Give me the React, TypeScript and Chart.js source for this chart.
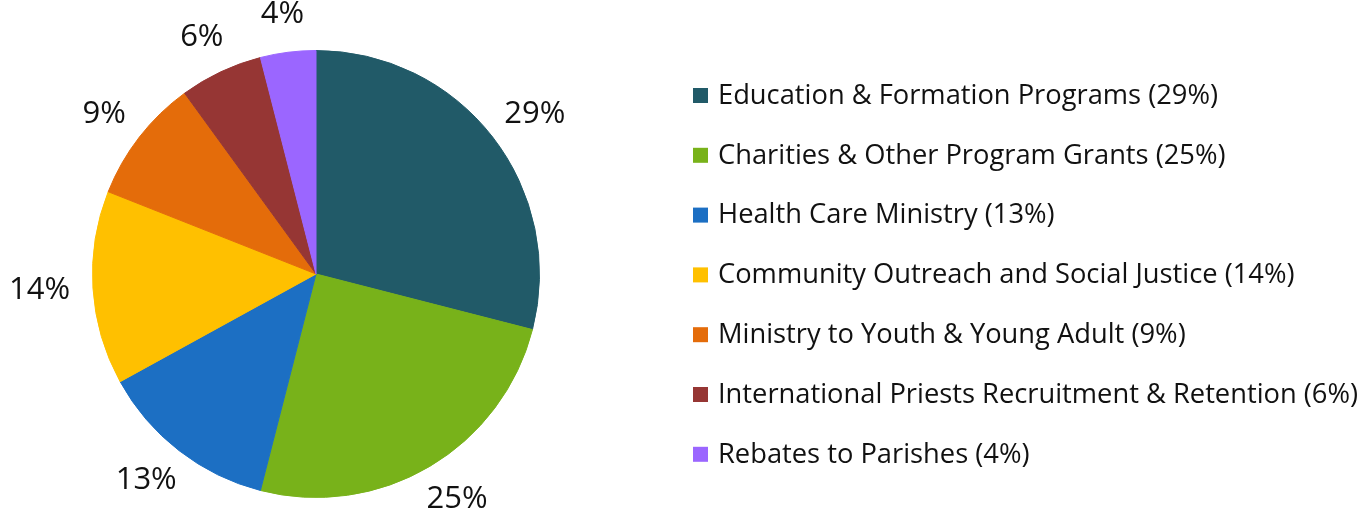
import { useEffect, useRef } from "react"
import { Chart, registerables } from "chart.js"

Chart.register(...registerables)

const categories = [
  "Education & Formation Programs",
  "Charities & Other Program Grants",
  "Health Care Ministry",
  "Community Outreach and Social Justice",
  "Ministry to Youth & Young Adult",
  "International Priests Recruitment & Retention",
  "Rebates to Parishes",
]
const shares = [29, 25, 13, 14, 9, 6, 4]
const colors = ["#215a68", "#78b21a", "#1c6fc3", "#ffc000", "#e46c0a", "#963634", "#9b66ff"]

const FONT = "'Open Sans', 'Noto Sans', sans-serif"

const sliceLabels = {
  id: "sliceLabels",
  afterDatasetsDraw(chart: Chart) {
    const { ctx } = chart
    const meta = chart.getDatasetMeta(0)
    ctx.save()
    ctx.font = `31px ${FONT}`
    ctx.fillStyle = "#111"
    ctx.textAlign = "center"
    ctx.textBaseline = "middle"
    meta.data.forEach((el: any, i: number) => {
      const { x, y, startAngle, endAngle, outerRadius } = el.getProps(
        ["x", "y", "startAngle", "endAngle", "outerRadius"],
        true
      )
      const mid = (startAngle + endAngle) / 2
      const dx = Math.cos(mid)
      const dy = Math.sin(mid)
      const text = `${shares[i]}%`
      const w = ctx.measureText(text).width
      const h = 30
      // label box sits just outside the rim, like Excel's "outside end"
      const r = outerRadius + 23
      const cx = x + dx * r + dx * (w / 2)
      const cy = y + dy * r + dy * (h / 2)
      ctx.fillText(text, cx, cy)
    })
    ctx.restore()
  },
}

const sideLegend = {
  id: "sideLegend",
  afterDraw(chart: Chart) {
    const { ctx } = chart
    ctx.save()
    ctx.font = `27.3px ${FONT}`
    ctx.textBaseline = "middle"
    ctx.textAlign = "left"
    categories.forEach((name, i) => {
      const y = 96 + i * 59.8
      ctx.fillStyle = colors[i]
      ctx.fillRect(693, y - 8, 15, 15)
      ctx.fillStyle = "#111"
      ctx.fillText(`${name} (${shares[i]}%)`, 718, y)
    })
    ctx.restore()
  },
}

export default function App() {
  const chartRef = useRef<HTMLCanvasElement>(null)
  const chartInstance = useRef<Chart | null>(null)

  useEffect(() => {
    document.body.style.margin = "0"
    if (!chartRef.current) return
    if (chartInstance.current) chartInstance.current.destroy()

    chartInstance.current = new Chart(chartRef.current, {
      type: "pie",
      data: {
        labels: categories,
        datasets: [
          {
            data: shares,
            backgroundColor: colors,
            borderColor: colors,
            borderWidth: 1,
            hoverOffset: 0,
          },
        ],
      },
      options: {
        animation: false,
        responsive: true,
        maintainAspectRatio: false,
        layout: {
          padding: { top: 50, bottom: 19, left: 92, right: 828 },
        },
        plugins: {
          legend: { display: false },
          tooltip: { enabled: false },
        },
      },
      plugins: [sliceLabels, sideLegend],
    })

    return () => {
      if (chartInstance.current) {
        chartInstance.current.destroy()
        chartInstance.current = null
      }
    }
  }, [])

  return (
    <div style={{ width: 1368, height: 517, position: "relative", background: "#fff" }}>
      <canvas ref={chartRef} />
    </div>
  )
}
